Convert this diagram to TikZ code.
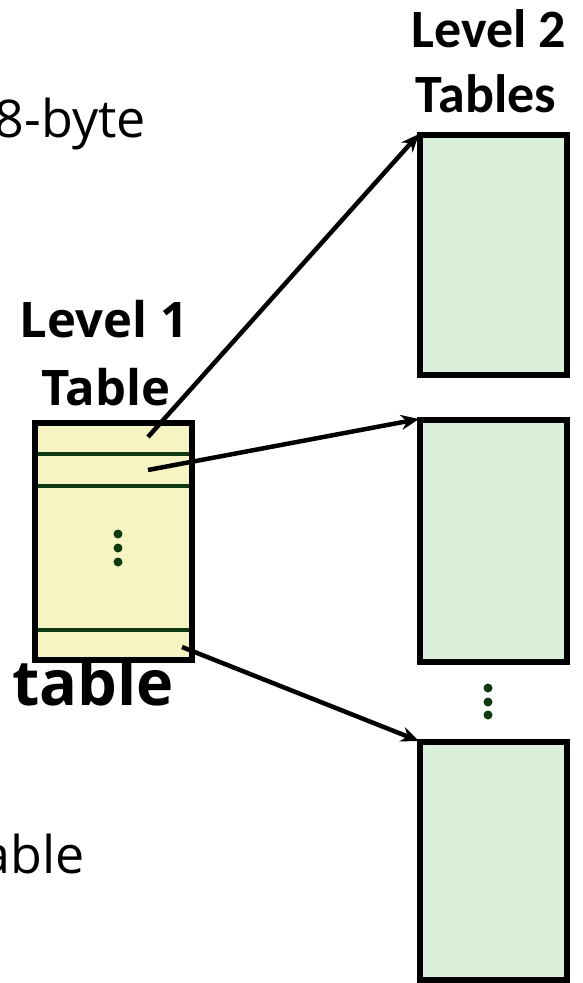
\documentclass[tikz,border=0pt]{standalone}
\usepackage{fontspec}
\setmainfont{Open Sans}
\newfontfamily\calib{Carlito}
\usetikzlibrary{arrows.meta}
\definecolor{lyellow}{HTML}{F5F4C2}
\definecolor{lgreen}{HTML}{DAF0DA}
\definecolor{dgreen}{HTML}{0F3A0F}
\tikzset{
  x=1pt, y=-1pt,
  tbox/.style={draw=black, line width=6pt},
  sepline/.style={draw=dgreen, line width=3.5pt},
  ptr/.style={draw=black, line width=4.5pt, -{Stealth[length=18pt,width=15pt]}, shorten >=0pt},
  dotc/.style={circle, fill=dgreen, inner sep=0pt, minimum size=9pt},
  hdr/.style={font=\fontsize{49}{58}\selectfont\bfseries, anchor=base, inner sep=0pt},
  hdrb/.style={font=\calib\fontsize{54}{64}\selectfont\bfseries, anchor=base, inner sep=0pt},
  body/.style={font=\fontsize{52}{60}\selectfont, anchor=base east, inner sep=0pt},
}
\begin{document}
\begin{tikzpicture}
\useasboundingbox (0,0) rectangle (583,983);
% label partly hidden by the table
\node[hdr, font=\fontsize{63}{70}\selectfont\bfseries] (tbl) at (93,705) {table};
% Level 1 table
\filldraw[tbox, fill=lyellow] (35,422.5) rectangle (192,660);
\draw[sepline] (38,454) -- (189,454);
\draw[sepline] (38,486) -- (189,486);
\draw[sepline] (38,630) -- (189,630);
\node[dotc] (d1a) at (118,534) {};
\node[dotc] (d1b) at (118,548) {};
\node[dotc] (d1c) at (118,562) {};
% Level 2 tables
\filldraw[tbox, fill=lgreen] (420,135) rectangle (567,374.5);
\filldraw[tbox, fill=lgreen] (420,420) rectangle (567,662);
\filldraw[tbox, fill=lgreen] (420,742) rectangle (567,979.5);
\coordinate (t1) at (419,134);
\coordinate (t2) at (419,419);
\coordinate (t3) at (419,741);
\node[dotc] (d2a) at (488,688) {};
\node[dotc] (d2b) at (488,702) {};
\node[dotc] (d2c) at (488,715) {};
% entries
\coordinate (e1) at (148,437);
\coordinate (e2) at (148,470);
\coordinate (e3) at (182,647);
\draw[ptr] (e1) -- (t1);
\draw[ptr] (e2) -- (t2);
\draw[ptr] (e3) -- (t3);
% labels
\node[hdr] (lv1) at (104,337) {Level 1};
\node[hdr] (tb1) at (106,405) {Table};
\node[hdrb] (lv2) at (489,47) {Level 2};
\node[hdrb] (tb2) at (486,112) {Tables};
\node[body] (byte) at (146,137) {8-byte};
\node[body] (able) at (85,873) {able};
\end{tikzpicture}
\end{document}
